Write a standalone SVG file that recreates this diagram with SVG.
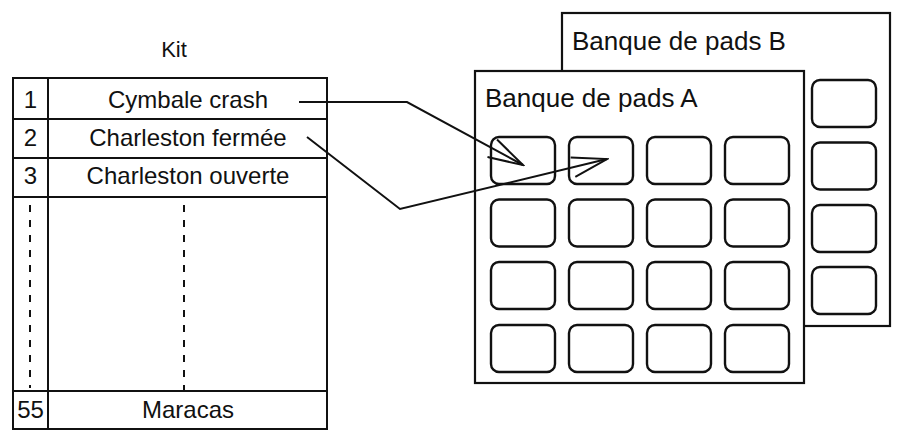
<svg xmlns="http://www.w3.org/2000/svg" width="901" height="440" viewBox="0 0 901 440">
<style>
text{font-family:"Liberation Sans",Arial,sans-serif;fill:#111}
.t{font-size:24px;text-anchor:middle}
.lbl{font-size:26px}
.ln{stroke:#111;stroke-width:2;fill:none}
.frame{stroke:#111;stroke-width:2.2;fill:#fff}
.pad{stroke:#111;stroke-width:2.4;fill:#fff}
.dash{stroke:#111;stroke-width:2;stroke-dasharray:7 8;fill:none}
</style>
<defs>
<marker id="arr" markerUnits="userSpaceOnUse" viewBox="0 0 38 22" refX="36" refY="11" markerWidth="38" markerHeight="22" orient="auto">
<path d="M1,1 L36,11 L1,21" fill="none" stroke="#111" stroke-width="2"/>
</marker>
<rect id="p" width="64" height="47" rx="8" ry="8"/>
</defs>
<g id="kit">
<text x="174" y="57" class="t" style="font-size:22px">Kit</text>
<rect x="13" y="78" width="314" height="351" class="ln"/>
<line x1="48" y1="78" x2="48" y2="429" class="ln"/>
<line x1="13" y1="119" x2="327" y2="119" class="ln"/>
<line x1="13" y1="158" x2="327" y2="158" class="ln"/>
<line x1="13" y1="197" x2="327" y2="197" class="ln"/>
<line x1="13" y1="391" x2="327" y2="391" class="ln"/>
<line x1="30" y1="205" x2="30" y2="388" class="dash"/>
<line x1="184" y1="205" x2="184" y2="390" class="dash"/>
<text x="30.5" y="108" class="t">1</text>
<text x="188" y="108" class="t">Cymbale crash</text>
<text x="30.5" y="146" class="t">2</text>
<text x="188" y="146" class="t">Charleston fermée</text>
<text x="30.5" y="184" class="t">3</text>
<text x="188" y="184" class="t">Charleston ouverte</text>
<text x="30.5" y="418" class="t">55</text>
<text x="188" y="418" class="t">Maracas</text>
</g>
<g id="bankB">
<rect x="562" y="13" width="328" height="313" class="frame"/>
<text x="572" y="50" class="lbl">Banque de pads B</text>
<use href="#p" x="812" y="80" class="pad"/>
<use href="#p" x="812" y="142.5" class="pad"/>
<use href="#p" x="812" y="205" class="pad"/>
<use href="#p" x="812" y="267" class="pad"/>
</g>
<g id="bankA">
<rect x="475" y="71" width="329" height="312" class="frame"/>
<text x="485" y="107" class="lbl">Banque de pads A</text>
<use href="#p" x="491" y="137" class="pad"/>
<use href="#p" x="569" y="137" class="pad"/>
<use href="#p" x="647" y="137" class="pad"/>
<use href="#p" x="725" y="137" class="pad"/>
<use href="#p" x="491" y="199.5" class="pad"/>
<use href="#p" x="569" y="199.5" class="pad"/>
<use href="#p" x="647" y="199.5" class="pad"/>
<use href="#p" x="725" y="199.5" class="pad"/>
<use href="#p" x="491" y="262" class="pad"/>
<use href="#p" x="569" y="262" class="pad"/>
<use href="#p" x="647" y="262" class="pad"/>
<use href="#p" x="725" y="262" class="pad"/>
<use href="#p" x="491" y="325" class="pad"/>
<use href="#p" x="569" y="325" class="pad"/>
<use href="#p" x="647" y="325" class="pad"/>
<use href="#p" x="725" y="325" class="pad"/>
</g>
<g id="connectors">
<polyline points="299,102 407,102 523,165" class="ln" marker-end="url(#arr)"/>
<polyline points="307,137 400,209 607,159" class="ln" marker-end="url(#arr)"/>
</g>
</svg>
